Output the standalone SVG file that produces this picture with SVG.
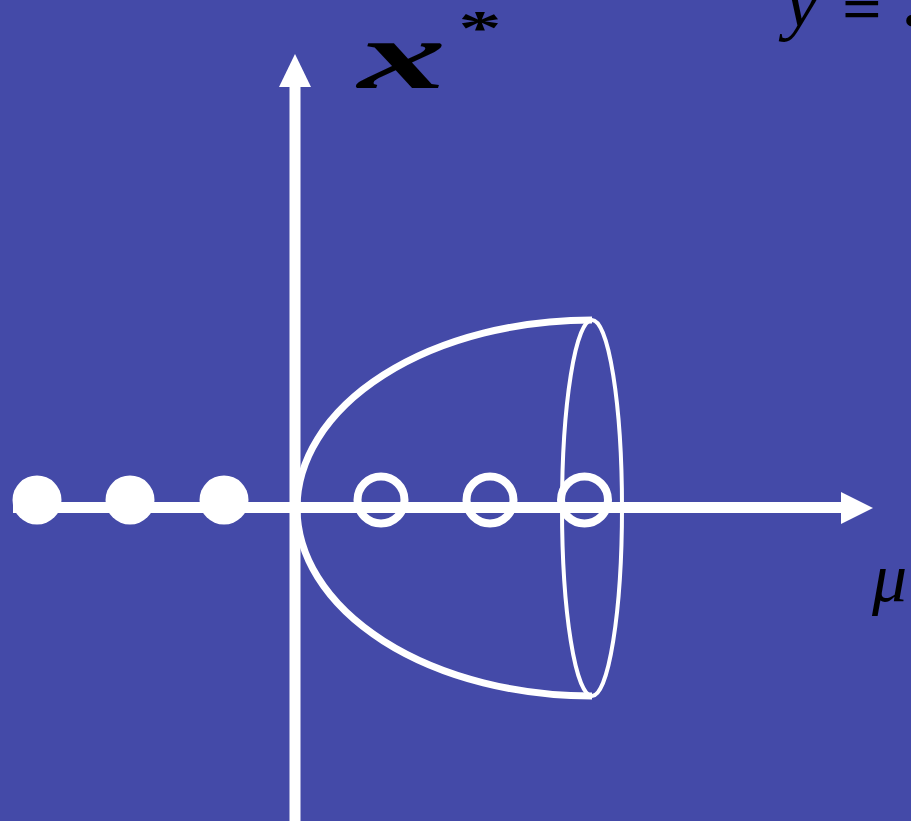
<svg xmlns="http://www.w3.org/2000/svg" width="911" height="821" viewBox="0 0 911 821">
  <style>
    .ax { stroke: #ffffff; stroke-width: 11; fill: none; }
    .head { fill: #ffffff; }
    .curve { stroke: #ffffff; stroke-width: 7; fill: none; }
    .thin { stroke: #ffffff; stroke-width: 4; fill: none; }
    .dot { fill: #ffffff; }
    .ring { fill: none; stroke: #ffffff; stroke-width: 8; }
    .lbl { font-family: "Liberation Serif", "DejaVu Serif", serif; fill: #000000; }
  </style>
  <rect x="0" y="0" width="911" height="821" fill="#444AA8"/>
  <g id="axes">
    <line class="ax" x1="295" y1="821" x2="295" y2="85"/>
    <polygon class="head" points="279,87 295,54 311,87"/>
    <line class="ax" x1="13" y1="507.5" x2="843" y2="507.5"/>
    <polygon class="head" points="841,492 873,508 841,524"/>
  </g>
  <g id="branch">
    <path class="curve" d="M592,320 A295,188 0 0 0 297,508 A295,188 0 0 0 592,696"/>
    <ellipse class="thin" cx="592" cy="508" rx="30" ry="188"/>
  </g>
  <g id="stable-points">
    <circle class="dot" cx="37" cy="500" r="24.5"/>
    <circle class="dot" cx="130" cy="500" r="24.5"/>
    <circle class="dot" cx="224" cy="500" r="24.5"/>
  </g>
  <g id="unstable-points">
    <circle class="ring" cx="381" cy="500" r="23.5"/>
    <circle class="ring" cx="490" cy="500" r="23.5"/>
    <circle class="ring" cx="584.5" cy="500" r="23.5"/>
  </g>
  <g id="labels">
    <text class="lbl" x="358" y="88" font-size="98" font-style="italic" font-weight="bold" textLength="88" lengthAdjust="spacingAndGlyphs">x</text>
    <text class="lbl" transform="translate(480,0) scale(1.4,0.8)" x="0" y="55" font-size="62" font-weight="bold" text-anchor="middle">*</text>
    <text class="lbl" x="785" y="26" font-size="75" font-style="italic">y</text>
    <text class="lbl" x="842" y="29" font-size="62" font-weight="bold" textLength="40" lengthAdjust="spacingAndGlyphs">=</text>
    <text class="lbl" x="903" y="26" font-size="72" font-weight="bold">.</text>
    <text class="lbl" x="872" y="601" font-size="70" font-style="italic">μ</text>
  </g>
</svg>
